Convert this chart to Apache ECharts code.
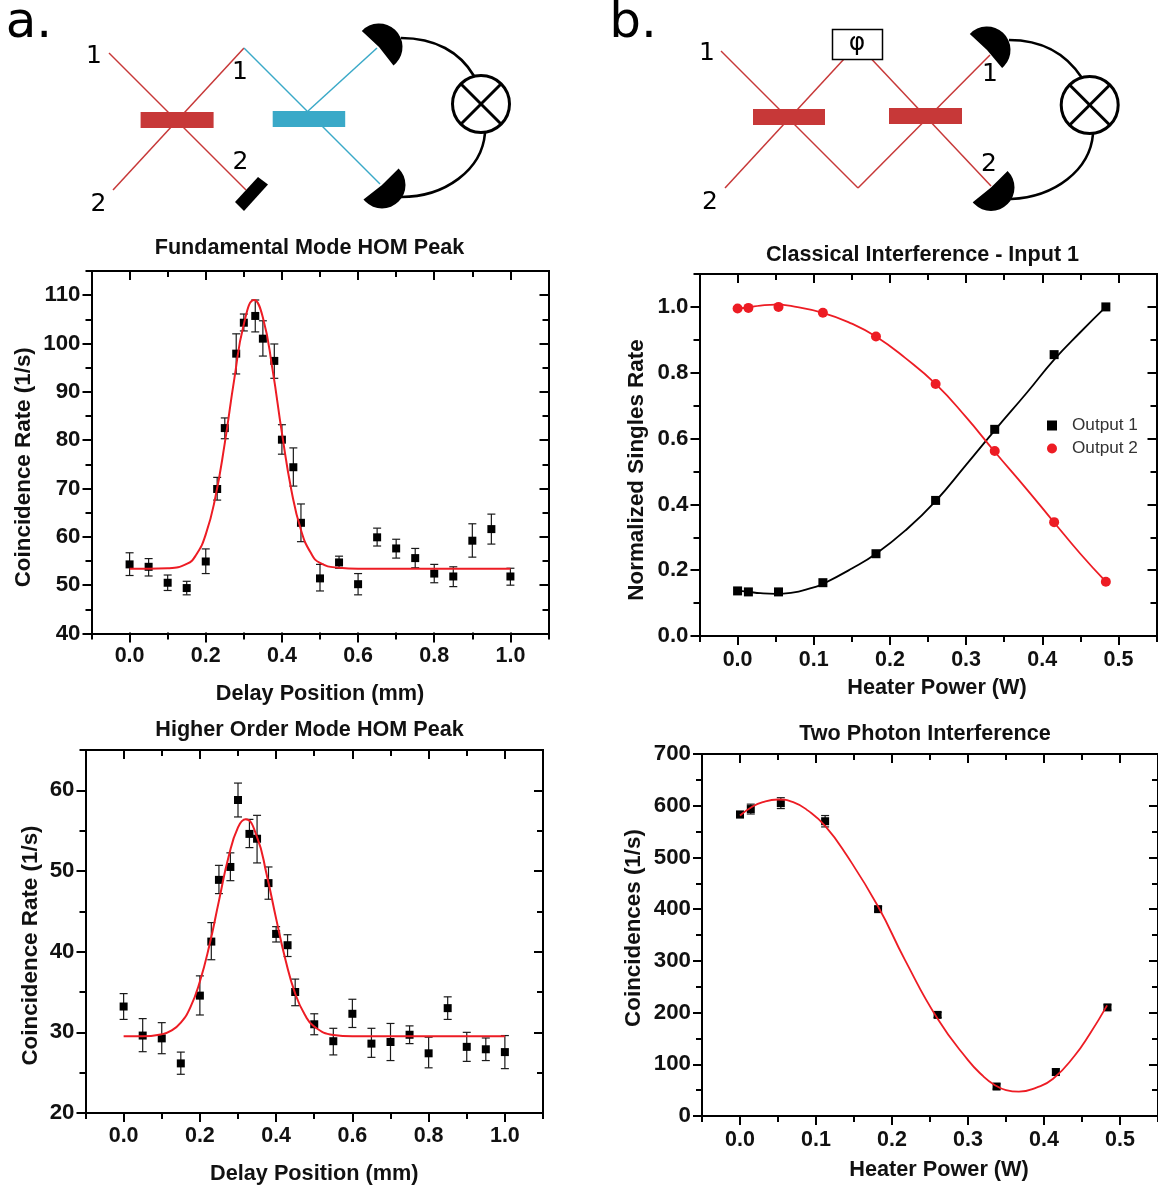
<!DOCTYPE html>
<html><head><meta charset="utf-8">
<style>html,body{margin:0;padding:0;background:#fff}#c{width:1158px;height:1190px}</style>
<script src="https://cdn.jsdelivr.net/npm/echarts@6/dist/echarts.min.js"></script>
</head><body><div id="c"></div>
<script>
// ---- data ----
const delayMajor = [0,0.2,0.4,0.6,0.8,1.0];
const delayMinor = [-0.1,0.1,0.3,0.5,0.7,0.9,1.1];
const heaterMajor = [0,0.1,0.2,0.3,0.4,0.5];
const heaterMinor = [-0.05,0.05,0.15,0.25,0.35,0.45,0.55];

const fundX  = [0,0.05,0.1,0.15,0.2,0.23,0.25,0.28,0.3,0.33,0.35,0.38,0.4,0.43,0.45,0.5,0.55,0.6,0.65,0.7,0.75,0.8,0.85,0.9,0.95,1.0];
const fundY  = [54.3,53.8,50.5,49.4,54.9,69.9,82.5,97.9,104.3,105.7,101,96.4,80.1,74.4,62.9,51.4,54.7,50.2,59.9,57.6,55.6,52.4,51.8,59.2,61.6,51.8];
const fundLo = [52,51.9,48.9,48,52.4,67.6,80.3,93.7,102.6,102.4,97.4,92.8,77.1,70.5,59,48.8,53.5,48,58.1,55.6,53.6,50.5,49.7,55.8,58.5,50];
const fundHi = [56.7,55.5,52.1,50.8,57.5,72.3,84.6,102,106.1,109,104.7,99.9,83.2,78.4,66.8,54.3,56,52.4,61.8,59.5,57.6,54.3,53.8,62.7,64.7,53.5];
const fundFitX = [0,0.05,0.1,0.15,0.175,0.2,0.225,0.25,0.275,0.3,0.327,0.35,0.375,0.4,0.425,0.45,0.475,0.5,0.55,0.6,0.8,1.0];
const fundFitY = [53.4,53.4,53.5,54.4,56.3,60.5,68.1,79.4,92.7,104,109,105.4,94.8,81.5,69.6,61.4,56.8,54.6,53.6,53.4,53.4,53.4];

const highX  = [0,0.05,0.1,0.15,0.2,0.23,0.25,0.28,0.3,0.33,0.35,0.38,0.4,0.43,0.45,0.5,0.55,0.6,0.65,0.7,0.75,0.8,0.85,0.9,0.95,1.0];
const highY  = [33.2,29.6,29.25,26.15,34.55,41.25,48.9,50.5,58.8,54.6,54,48.5,42.2,40.8,35,31,28.9,32.3,28.6,28.8,29.7,27.4,33,28.2,27.9,27.55];
const highLo = [31.6,27.6,27.35,24.8,32.15,39,47.2,48.8,56.7,52.9,51,46.5,41.2,39.4,33.3,29.7,27.2,30.6,26.9,26.5,28.6,25.6,31.6,26.4,26.5,25.5];
const highHi = [34.8,31.7,31.2,27.55,37,43.6,50.7,52.25,60.9,56.4,56.9,50.5,43.1,42.1,36.6,32.3,30.5,34.1,30.5,31.1,30.8,29.4,34.4,30,29.3,29.6];
const highFitX = [0,0.05,0.1,0.125,0.15,0.175,0.2,0.225,0.25,0.275,0.3,0.32,0.35,0.375,0.4,0.425,0.45,0.475,0.5,0.55,0.6,0.8,1.0];
const highFitY = [29.5,29.5,29.76,30.2,31.2,33.1,36.3,40.8,46.3,51.7,55.4,56.4,54.2,49.6,44.1,38.9,34.8,32.2,30.7,29.67,29.5,29.5,29.5];

const powerX  = [0,0.0142,0.0537,0.112,0.1817,0.26,0.3376,0.4156,0.4835];
const out1Y   = [0.137,0.134,0.134,0.162,0.25,0.412,0.628,0.855,1.0];
const out2Y   = [0.995,0.997,1.0,0.982,0.91,0.766,0.562,0.346,0.165];
const out1FitX = [0,0.015,0.03,0.05,0.07,0.1,0.112,0.15,0.1817,0.22,0.26,0.3,0.3376,0.38,0.4156,0.45,0.4835];
const out1FitY = [0.138,0.134,0.13,0.128,0.131,0.148,0.158,0.205,0.25,0.32,0.41,0.52,0.625,0.74,0.84,0.923,1.0];
const out2FitX = [0,0.015,0.03,0.05,0.07,0.112,0.15,0.1817,0.22,0.26,0.3,0.3376,0.38,0.4156,0.45,0.4835];
const out2FitY = [0.995,0.999,1.004,1.007,1.003,0.982,0.949,0.91,0.845,0.766,0.665,0.56,0.445,0.345,0.25,0.165];

const coinY  = [583,593.5,605,570,400,195.5,57,85,210];
const coinLo = [577,584,594.5,559,395,190.5,52,79,205];
const coinHi = [589,603,615.5,581,405,200.5,62,91,215];
const coinFitX = [0,0.015,0.03,0.05,0.07,0.09,0.112,0.14,0.1817,0.217,0.26,0.3,0.32,0.334,0.35,0.367,0.39,0.412,0.44,0.46,0.483];
const coinFitY = [581,597,607,612,607,590,561,505,405,302,188,108,77,61,50,47,55,72,116,158,214];

const titles = ['Fundamental Mode HOM Peak','Higher Order Mode HOM Peak','Classical Interference - Input 1','Two Photon Interference'];
// ---- styles ----
const BOLD = 'Liberation Sans', RED = '#ed1c24', INK = '#111';
const zip = (...a) => a[0].map((_, i) => a.map(c => c[i]));
const fix1 = v => (+v).toFixed(1);
const int0 = v => String(Math.round(+v));

const panels = [
 {grid:{left:91.5,top:271,width:457,height:362.5}, xr:[-0.1,1.1], yr:[40,115], xMaj:delayMajor, xMin:delayMinor,
  yMaj:[40,50,60,70,80,90,100,110], yMin:[45,55,65,75,85,95,105,115], yFmt:int0, xMargin:12,
  xName:'Delay Position (mm)', yName:'Coincidence Rate (1/s)', xGap:50, yGap:57, xPad:[0,0,0,0], yPad:[0,30,0,0], title:[309.5,237]},
 {grid:{left:85.5,top:750,width:457.5,height:363}, xr:[-0.1,1.1], yr:[20,65], xMaj:delayMajor, xMin:delayMinor,
  yMaj:[20,30,40,50,60], yMin:[25,35,45,55,65], yFmt:int0, xMargin:12,
  xName:'Delay Position (mm)', yName:'Coincidence Rate (1/s)', xGap:50, yGap:44, xPad:[0,0,0,0], yPad:[0,28,0,0], title:[309.5,719]},
 {grid:{left:699.5,top:274,width:457,height:362}, xr:[-0.05,0.55], yr:[0,1.1], xMaj:heaterMajor, xMin:heaterMinor,
  yMaj:[0,0.2,0.4,0.6,0.8,1.0], yMin:[0.1,0.3,0.5,0.7,0.9,1.1], yFmt:fix1, xMargin:13,
  xName:'Heater Power (W)', yName:'Normalized Singles Rate', xGap:41, yGap:52, xPad:[0,0,0,18], yPad:[0,30,0,0], title:[922.5,244]},
 {grid:{left:702,top:754,width:457,height:362}, xr:[-0.05,0.55], yr:[0,700], xMaj:heaterMajor, xMin:heaterMinor,
  yMaj:[0,100,200,300,400,500,600,700], yMin:[50,150,250,350,450,550,650], yFmt:int0, xMargin:13,
  xName:'Heater Power (W)', yName:'Coincidences (1/s)', xGap:43, yGap:57, xPad:[0,0,0,18], yPad:[0,0,0,14], title:[925,723]}
];

const lineStyle = {color:'#000', width:2, cap:'square'};
const labelFont = {color:INK, fontFamily:BOLD, fontWeight:'bold', fontSize:21};
const xAxes = [], yAxes = [], grids = [], titleOpts = [];
panels.forEach((p, i) => {
  grids.push(p.grid);
  titleOpts.push({text:titles[i], left:p.title[0], top:p.title[1], padding:0, textAlign:'center',
    textStyle:{color:INK, fontFamily:BOLD, fontWeight:'bold', fontSize:21.6}});
  const baseX = {gridIndex:i, type:'value', min:p.xr[0], max:p.xr[1], splitLine:{show:false}, silent:true};
  const baseY = {gridIndex:i, type:'value', min:p.yr[0], max:p.yr[1], splitLine:{show:false}, silent:true};
  xAxes.push(
    {...baseX, position:'bottom', axisLine:{show:true,onZero:false,lineStyle}, axisTick:{show:true,customValues:p.xMaj,length:8,lineStyle},
     axisLabel:{show:true,customValues:p.xMaj,formatter:fix1,margin:p.xMargin,...labelFont,fontSize:21.5,showMinLabel:true,showMaxLabel:true,hideOverlap:false},
     name:p.xName, nameLocation:'middle', nameGap:p.xGap, nameTextStyle:{...labelFont,fontSize:21.7,padding:p.xPad}},
    {...baseX, position:'bottom', axisLine:{show:false,onZero:false}, axisTick:{show:true,customValues:p.xMin,length:5,lineStyle}, axisLabel:{show:false}},
    {...baseX, position:'top', axisLine:{show:true,onZero:false,lineStyle}, axisTick:{show:true,inside:true,customValues:p.xMaj,length:8,lineStyle}, axisLabel:{show:false}},
    {...baseX, position:'top', axisLine:{show:false,onZero:false}, axisTick:{show:true,inside:true,customValues:p.xMin,length:5,lineStyle}, axisLabel:{show:false}}
  );
  yAxes.push(
    {...baseY, position:'left', axisLine:{show:true,onZero:false,lineStyle}, axisTick:{show:true,customValues:p.yMaj,length:8,lineStyle},
     axisLabel:{show:true,customValues:p.yMaj,formatter:p.yFmt,margin:11,...labelFont,fontSize:22.3,showMinLabel:true,showMaxLabel:true,hideOverlap:false},
     name:p.yName, nameLocation:'middle', nameGap:p.yGap, nameRotate:90, nameTextStyle:{...labelFont,fontSize:22.4,padding:p.yPad}},
    {...baseY, position:'left', axisLine:{show:false,onZero:false}, axisTick:{show:true,customValues:p.yMin,length:5,lineStyle}, axisLabel:{show:false}},
    {...baseY, position:'right', axisLine:{show:true,onZero:false,lineStyle}, axisTick:{show:true,inside:true,customValues:p.yMaj,length:8,lineStyle}, axisLabel:{show:false}},
    {...baseY, position:'right', axisLine:{show:false,onZero:false}, axisTick:{show:true,inside:true,customValues:p.yMin,length:5,lineStyle}, axisLabel:{show:false}}
  );
});

function errorBars(i, rows){
  return {type:'custom', xAxisIndex:4*i, yAxisIndex:4*i, z:2, silent:true, clip:false, data:rows,
    encode:{x:0,y:[1,2,3]},
    renderItem:(params, api) => {
      const x = api.value(0), lo = api.coord([x, api.value(2)]), hi = api.coord([x, api.value(3)]);
      const st = {stroke:'#1a1a1a', lineWidth:1.2}, w = 4;
      const ln = (a,b,c,d) => ({type:'line', shape:{x1:a,y1:b,x2:c,y2:d}, style:st});
      return {type:'group', children:[ln(lo[0],lo[1],hi[0],hi[1]), ln(lo[0]-w,lo[1],lo[0]+w,lo[1]), ln(hi[0]-w,hi[1],hi[0]+w,hi[1])]};
    }};
}
function points(i, rows, opt){
  return {type:'scatter', xAxisIndex:4*i, yAxisIndex:4*i, z:3, silent:true, symbol:'rect', symbolSize:8,
    itemStyle:{color:'#000',opacity:1}, data:rows, ...opt};
}
function curve(i, rows, color, w){
  return {type:'line', xAxisIndex:4*i, yAxisIndex:4*i, z:4, silent:true, showSymbol:false, symbol:'none',
    smooth:0.5, lineStyle:{color, width:w}, data:rows};
}

const series = [
  errorBars(0, zip(fundX,fundY,fundLo,fundHi)), points(0, zip(fundX,fundY)), curve(0, zip(fundFitX,fundFitY), RED, 2),
  errorBars(1, zip(highX,highY,highLo,highHi)), points(1, zip(highX,highY)), curve(1, zip(highFitX,highFitY), RED, 2),
  curve(2, zip(out1FitX,out1FitY), '#000', 1.8), curve(2, zip(out2FitX,out2FitY), RED, 1.8),
  points(2, zip(powerX,out1Y), {name:'Output 1', symbolSize:9}),
  points(2, zip(powerX,out2Y), {name:'Output 2', symbol:'circle', symbolSize:10, itemStyle:{color:RED,opacity:1}}),
  errorBars(3, zip(powerX,coinY,coinLo,coinHi)), points(3, zip(powerX,coinY), {symbolSize:8}), curve(3, zip(coinFitX,coinFitY), RED, 1.8)
];

// ---- schematic drawings above the plots ----
const CR = '#c73838', CB = '#3aa9c8';
function seg(x1,y1,x2,y2,c,w){ return {type:'line', shape:{x1,y1,x2,y2}, style:{stroke:c, lineWidth:w||1.5}}; }
function bar(x,y,w,h,c){ return {type:'rect', shape:{x,y,width:w,height:h}, style:{fill:c}}; }
function txt(t,x,y,s){ return {type:'text', x, y, style:{text:t, fill:'#000', font:s+'px "DejaVu Sans"', textAlign:'center', textVerticalAlign:'middle'}}; }
function det(cx,cy,a0,a1){ return {type:'sector', shape:{cx,cy,r:23.5,r0:0,startAngle:a0*Math.PI/180,endAngle:a1*Math.PI/180,clockwise:true}, style:{fill:'#000'}}; }
function bez(x1,y1,cpx1,cpy1,cpx2,cpy2,x2,y2){ return {type:'bezierCurve', shape:{x1,y1,x2,y2,cpx1,cpy1,cpx2,cpy2}, style:{stroke:'#000',lineWidth:2.6,fill:'none'}}; }
function meter(cx,cy){ const d=20; return [
  {type:'circle', shape:{cx,cy,r:28.5}, style:{fill:'#fff',stroke:'#000',lineWidth:3}},
  seg(cx-d,cy-d,cx+d,cy+d,'#000',3), seg(cx-d,cy+d,cx+d,cy-d,'#000',3)]; }
const sketch = [
  // panel a
  seg(109,53,246,190,CR), seg(113,190,244,48,CR), bar(140.6,112,73,16,CR),
  seg(244,48,380,184,CB), seg(308,111,377,48,CB), bar(272.7,111,72.5,16,CB),
  {type:'polygon', shape:{points:[[258,177],[268,184.5],[244,211],[235,202]]}, style:{fill:'#000'}},
  bez(401,38,435,38,460,52,474,76), bez(401,197,445,197,482,170,485,133),
  det(379,47,223,412), det(382,185,-45,142),
  ...meter(481,104),
  txt('a.',29,24,50), txt('1',94,56,25), txt('1',240,72,25), txt('2',240.5,162,25), txt('2',98.4,204,25),
  // panel b
  seg(721,51,858,188,CR), seg(725,188,844,59,CR), seg(871.5,59,991,186,CR), seg(858,188,990,55,CR),
  bar(753,109,72,16,CR), bar(889,108,73,16,CR),
  {type:'rect', shape:{x:832.5,y:29.5,width:50,height:30}, style:{fill:'#fff',stroke:'#000',lineWidth:1.5}},
  bez(1009,40,1040,40,1065,52,1082,78), bez(1011,199,1055,197,1090,170,1093,134),
  det(987,50,223,410), det(991,187.5,-45,141),
  ...meter(1089.7,105),
  txt('b.',633,24,50), txt('φ',857,43,25), txt('1',707,53,25), txt('2',710,202,25), txt('1',990,74,25), txt('2',989,164,25)
];

const chart = echarts.init(document.getElementById('c'), null, {renderer:'canvas'});
chart.setOption({
  animation:false, backgroundColor:'#fff',
  title:titleOpts, grid:grids, xAxis:xAxes, yAxis:yAxes, series,
  legend:{show:true, orient:'vertical', left:1042, top:412, itemWidth:10, itemHeight:10, itemGap:6, align:'left', selectedMode:false,
    data:[{name:'Output 1',icon:'rect'},{name:'Output 2',icon:'circle'}],
    textStyle:{color:'#333', fontFamily:BOLD, fontSize:17.2, padding:[0,0,0,10]}},
  graphic:sketch.map(e => ({...e, silent:true}))
});
</script></body></html>
